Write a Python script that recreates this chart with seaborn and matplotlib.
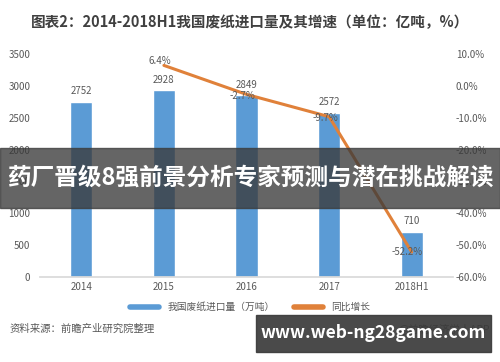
import matplotlib
matplotlib.use("Agg")
import matplotlib.pyplot as plt
import seaborn as sns
import pandas as pd
from matplotlib.patches import Rectangle
from matplotlib.lines import Line2D

categories = ["2014", "2015", "2016", "2017", "2018H1"]
import_volume = [2752, 2928, 2849, 2572, 710]
growth_categories = ["2015", "2016", "2017", "2018H1"]
growth_rate = [6.4, -2.7, -9.7, -52.2]
left_ticks = [0, 500, 1000, 1500, 2000, 2500, 3000, 3500]
right_ticks = [10, 0, -10, -20, -30, -40, -50, -60]

sns.set_theme(style="white")
plt.rcParams['font.family'] = ['Noto Sans CJK SC', 'DejaVu Sans']

BLUE = "#5B9BD5"
ORANGE = "#E0813A"
GRAY = "#595959"

fig = plt.figure(figsize=(5, 3.62), dpi=100)
ax = fig.add_axes([0.08, 0.235, 0.826, 0.616])

df = pd.DataFrame({"year": categories, "vol": import_volume})
sns.barplot(data=df, x="year", y="vol", color=BLUE, width=0.27, ax=ax, saturation=1)
ax.set_ylim(0, 3500)
ax.set_xlim(-0.5, 4.5)
ax.set_yticks(left_ticks)
ax.set_xlabel("")
ax.set_ylabel("")
for s in ["top", "right", "left"]:
    ax.spines[s].set_visible(False)
ax.spines["bottom"].set_color("#D9D9D9")
ax.tick_params(axis="both", colors=GRAY, labelsize=7, length=0)
ax.tick_params(axis="y", pad=7)
for i, v in enumerate(import_volume):
    ax.text(i, v + 90, str(v), ha="center", va="bottom", fontsize=7, color=GRAY)

ax2 = ax.twinx()
gx = [categories.index(c) for c in growth_categories]
gdf = pd.DataFrame({"x": gx, "g": growth_rate})
sns.lineplot(data=gdf, x="x", y="g", color=ORANGE, linewidth=2.2, ax=ax2)
ax2.set_ylim(-60, 10)
ax2.set_yticks(right_ticks)
ax2.set_yticklabels([f"{t:.1f}%" for t in right_ticks])
ax2.set_xlabel("")
ax2.set_ylabel("")
for s in ["top", "right", "left", "bottom"]:
    ax2.spines[s].set_visible(False)
ax2.tick_params(axis="y", colors=GRAY, labelsize=7, length=0, pad=2)
offsets = [1.5, -0.5, -0.5, 0]
for x, g, o in zip(gx, growth_rate, offsets):
    ax2.text(x - 0.05, g + o, f"{g}%", ha="center", va="center", fontsize=7, color=GRAY)

# title
fig.text(0.5, 0.94, "图表2：2014-2018H1我国废纸进口量及其增速（单位：亿吨，%）",
         ha="center", va="center", fontsize=10.5, fontweight="bold", color="#404040")

# legend
handles = [Line2D([0], [0], color=BLUE, lw=4), Line2D([0], [0], color=ORANGE, lw=4)]
fig.legend(handles, ["我国废纸进口量（万吨）", "同比增长"], loc="center",
           bbox_to_anchor=(0.5, 0.152), ncol=2, frameon=False, fontsize=7,
           labelcolor=GRAY, handlelength=3, columnspacing=2)

# source
fig.text(0.02, 0.093, "资料来源：前瞻产业研究院整理", ha="left", va="center",
         fontsize=7.5, color=GRAY, style="italic")
fig.text(0.98, 0.093, "@前瞻经济学人APP", ha="right", va="center", fontsize=7.5, color=GRAY)

# overlay banners
fig.patches.append(Rectangle((0, 1 - 208/362), 1, 60/362, transform=fig.transFigure,
                             color="#3a3a3a", alpha=0.78, zorder=10))
fig.text(0.5, 1 - 178/362, "药厂晋级8强前景分析专家预测与潜在挑战解读", ha="center", va="center",
         fontsize=17, fontweight="bold", color="white", zorder=11)
fig.patches.append(Rectangle((256/500, 1 - 352/362), 235/500, 37/362, transform=fig.transFigure,
                             color="#3a3a3a", alpha=0.92, zorder=10))
fig.text(373/500, 1 - 333/362, "www.web-ng28game.com", ha="center", va="center",
         fontsize=12.5, fontweight="bold", color="white", zorder=11)

fig.savefig("out.png", dpi=100, facecolor="white")
